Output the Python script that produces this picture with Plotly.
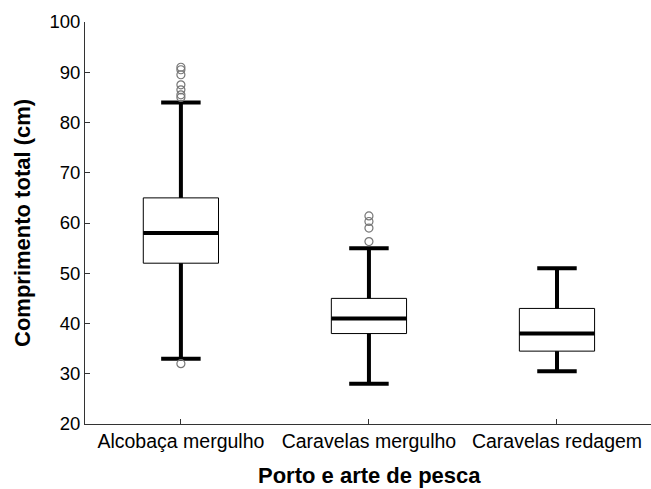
import plotly.graph_objects as go

# Length distribution by port and fishing gear
categories = ["Alcobaça mergulho", "Caravelas mergulho", "Caravelas redagem"]
lower_whisker = [33, 28, 30.5]
q1 = [52, 38, 34.5]
median = [58, 41, 38]
q3 = [65, 45, 43]
upper_whisker = [84, 55, 51]
outliers = [
    [32, 85, 85.5, 86.5, 87.5, 89.5, 90.5, 91],
    [56.3, 59, 60.3, 61.4],
    [],
]
y_ticks = [20, 30, 40, 50, 60, 70, 80, 90, 100]

BOX_HALF = 0.2
CAP_HALF = 0.105
THICK = 4

fig = go.Figure()

for i, name in enumerate(categories):
    # box body (thin outline, white fill)
    fig.add_trace(go.Box(
        x=[i], q1=[q1[i]], median=[median[i]], q3=[q3[i]],
        lowerfence=[q1[i]], upperfence=[q3[i]],
        width=2 * BOX_HALF, whiskerwidth=0,
        fillcolor="white", line=dict(color="black", width=1),
        boxpoints=False, showlegend=False, hoverinfo="skip",
    ))
    # thick median bar
    fig.add_trace(go.Scatter(
        x=[i - BOX_HALF, i + BOX_HALF], y=[median[i], median[i]],
        mode="lines", line=dict(color="black", width=THICK),
        showlegend=False, hoverinfo="skip",
    ))
    # whisker stems and caps
    for lo, hi in ((lower_whisker[i], q1[i]), (q3[i], upper_whisker[i])):
        fig.add_trace(go.Scatter(
            x=[i, i], y=[lo, hi], mode="lines",
            line=dict(color="black", width=THICK),
            showlegend=False, hoverinfo="skip",
        ))
    for w in (lower_whisker[i], upper_whisker[i]):
        fig.add_trace(go.Scatter(
            x=[i - CAP_HALF, i + CAP_HALF], y=[w, w], mode="lines",
            line=dict(color="black", width=THICK),
            showlegend=False, hoverinfo="skip",
        ))
    # outlying values
    if outliers[i]:
        fig.add_trace(go.Scatter(
            x=[i] * len(outliers[i]), y=outliers[i], mode="markers",
            marker=dict(symbol="circle-open", size=8,
                        color="#777777", line=dict(width=1.2, color="#777777")),
            showlegend=False, hoverinfo="skip",
        ))

font_family = "Liberation Sans, Arial, sans-serif"

fig.update_layout(
    width=651, height=489,
    margin=dict(l=85, r=0, t=22, b=65),
    plot_bgcolor="white", paper_bgcolor="white",
    font=dict(family=font_family, color="black", size=18),
    xaxis=dict(
        range=[-0.51, 2.5],
        tickmode="array", tickvals=list(range(len(categories))),
        ticktext=categories,
        ticks="inside", ticklen=5, tickcolor="#333333",
        showline=True, linecolor="#333333", linewidth=1,
        showgrid=False, zeroline=False,
        tickfont=dict(size=19.5),
    ),
    yaxis=dict(
        range=[20, 100],
        tickvals=y_ticks,
        ticks="inside", ticklen=5, tickcolor="#333333",
        showline=True, linecolor="#333333", linewidth=1,
        showgrid=False, zeroline=False,
        tickfont=dict(size=18.5),
    ),
    annotations=[
        dict(text="<b>Porto e arte de pesca</b>", xref="paper", yref="paper",
             x=(369 - 85) / 566, y=(424 - 475) / 402,
             xanchor="center", yanchor="middle", showarrow=False,
             font=dict(size=22)),
        dict(text="<b>Comprimento total (cm)</b>", xref="paper", yref="paper",
             x=(22 - 85) / 566, y=(424 - 223) / 402, textangle=-90,
             xanchor="center", yanchor="middle", showarrow=False,
             font=dict(size=22)),
    ],
)

fig.write_html("out.html")
